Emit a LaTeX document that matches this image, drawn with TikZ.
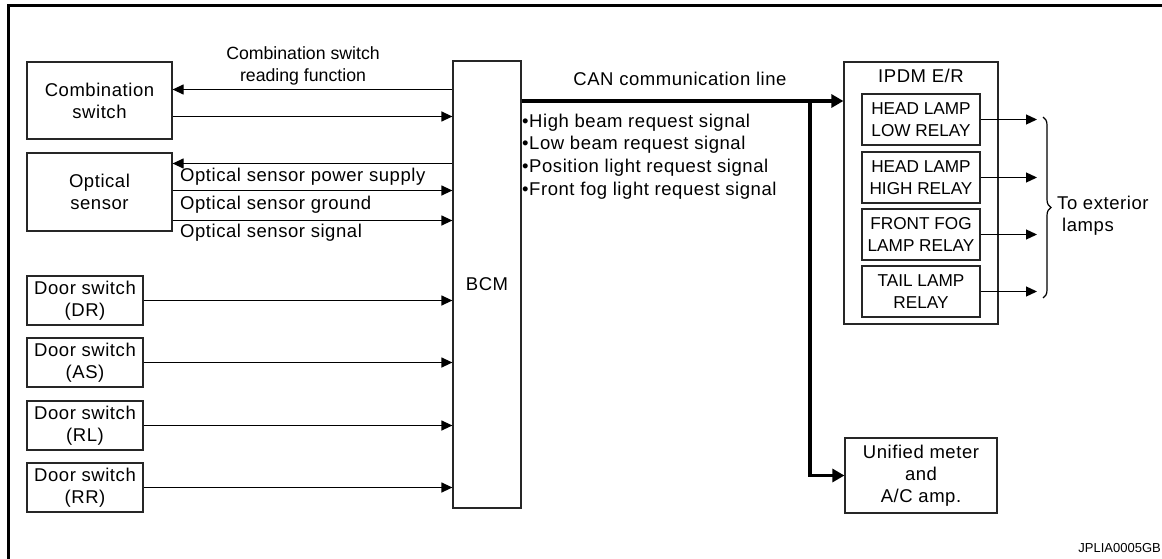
\documentclass[tikz,border=0pt]{standalone}
\usepackage{fontspec}
\setmainfont{Liberation Sans}
\newfontfamily\widefont[LetterSpace=3]{Liberation Sans}
\usetikzlibrary{arrows.meta,decorations.pathreplacing}
\begin{document}
\begin{tikzpicture}[x=1pt,y=-1pt,
  box/.style={draw=black!85, line width=1.2pt, inner sep=0pt, align=center,
    font=\widefont\fontsize{18.5}{22}\selectfont},
  relay/.style={box, font=\fontsize{17.2}{22}\selectfont, minimum width=118pt, minimum height=51pt},
  door/.style={box, minimum width=116pt, minimum height=49pt},
  wlbl/.style={inner sep=0pt, font=\widefont\fontsize{18.5}{22}\selectfont},
  lbl/.style={inner sep=0pt, font=\fontsize{17.7}{22}\selectfont},
  arr/.style={line width=1.2pt, -{Triangle[length=11pt,width=10pt]}},
  thickarr/.style={line width=3.5pt, -{Triangle[length=12pt,width=13pt]}},
]
\useasboundingbox (0,0) rectangle (1162,559);
% frame
\draw[line width=3pt] (8,559) -- (8,6) -- (1162,6);

% left boxes
\node[box, minimum width=145pt, minimum height=77pt] (comb) at (99.5,100.5) {Combination\\switch};
\node[box, minimum width=145pt, minimum height=78pt] (opt) at (99.5,192) {Optical\\sensor};
\node[door] (dr) at (85,300.5) {Door switch\\(DR)};
\node[door] (as) at (85,362.5) {Door switch\\(AS)};
\node[door] (rl) at (85,425.5) {Door switch\\(RL)};
\node[door] (rr) at (85,487.5) {Door switch\\(RR)};

% BCM
\node[box, minimum width=68pt, minimum height=447pt] (bcm) at (487,284.5) {BCM};

% IPDM
\node[box, minimum width=154pt, minimum height=262pt] (ipdm) at (921,193) {};
\node[wlbl] (ipdmt) at (921,76) {IPDM E/R};
\node[relay] (r1) at (921,119.5) {HEAD LAMP\\LOW RELAY};
\node[relay] (r2) at (921,177.5) {HEAD LAMP\\HIGH RELAY};
\node[relay] (r3) at (921,234.5) {FRONT FOG\\LAMP RELAY};
\node[relay] (r4) at (921,291.5) {TAIL LAMP\\RELAY};

% meter
\node[box, minimum width=152pt, minimum height=75pt] (meter) at (921,475.5) {Unified meter\\and\\A/C amp.};

% labels
\node[lbl, align=center] (cslbl) at (303,66) {Combination switch\\reading function};
\node[wlbl, anchor=west] (osp) at (180,177) {Optical sensor power supply};
\node[wlbl, anchor=west] (osg) at (180,205) {Optical sensor ground};
\node[wlbl, anchor=west] (oss) at (180,233) {Optical sensor signal};
\node[wlbl] (can) at (680,79) {CAN communication line};
\node[wlbl, anchor=west, align=left, font=\widefont\fontsize{18.5}{22.8}\selectfont] (sig) at (522,156.5)
  {•High beam request signal\\•Low beam request signal\\•Position light request signal\\•Front fog light request signal};
\node[wlbl, anchor=west, align=left] (ext) at (1057,215.5) {To exterior\\\hspace*{5pt}lamps};
\node[inner sep=0pt, anchor=east, font=\fontsize{13}{15}\selectfont] (code) at (1161,548) {JPLIA0005GB};

% connectors left
\draw[arr] (bcm.west |- 0,89.5) -- (comb.east |- 0,89.5);
\draw[arr] (comb.east |- 0,116.5) -- (bcm.west |- 0,116.5);
\draw[arr] (bcm.west |- 0,163.5) -- (opt.east |- 0,163.5);
\draw[arr] (opt.east |- 0,190.5) -- (bcm.west |- 0,190.5);
\draw[arr] (opt.east |- 0,220.5) -- (bcm.west |- 0,220.5);
\foreach \d in {dr,as,rl,rr} { \draw[arr] (\d.east) -- (bcm.west |- \d.east); }

% CAN
\draw[thickarr] (bcm.east |- 0,101) -- (ipdm.west |- 0,101);
\coordinate (j) at (810,101);
\draw[thickarr] (j) |- (meter.west);

% relay outputs
\coordinate (tip) at (1037,0);
\foreach \r in {r1,r2,r3,r4} { \draw[arr] (\r.east) -- (\r.east -| tip); }
\draw[line width=1.2pt, decorate, decoration={brace, amplitude=8pt}] (1043,117) -- (1043,298);
\end{tikzpicture}
\end{document}
